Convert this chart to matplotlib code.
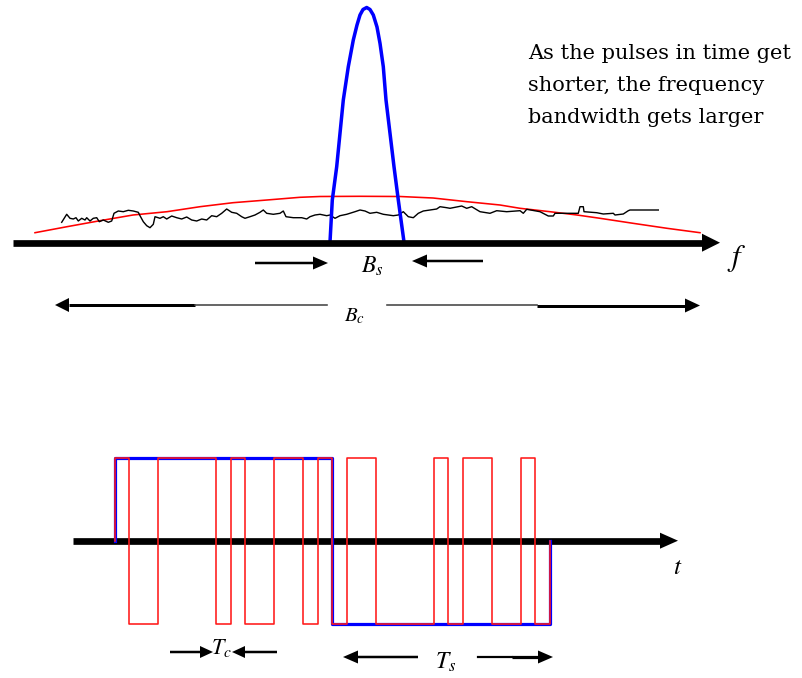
import numpy as np
import matplotlib
matplotlib.use("Agg")
import matplotlib.pyplot as plt

plt.rcParams['mathtext.fontset'] = 'stix'

# text of the note
note_lines = ["As the pulses in time get",
              "shorter, the frequency",
              "bandwidth gets larger"]

# spectrum of the short-pulse signal (blue lobe) (pixels)
lobe_x = [330, 332.3, 336.7, 340, 343.3, 348.3, 353.3, 357, 360, 363, 366.7, 370,
          373.3, 377, 380, 383.3, 386, 390, 394, 398.3, 404]
lobe_y = [242, 200, 166.7, 133.3, 100, 66.7, 40, 25, 15, 9.5, 7.5, 9.5,
          15, 27, 43.3, 66.7, 100, 133.3, 166.7, 200, 242]

# spread spectrum (red) (pixels)
spread_x = [35, 67, 100, 133, 167, 200, 233, 267, 300, 320, 360, 400, 433, 467,
            500, 520, 550, 577, 600, 633, 667, 700]
spread_y = [232.7, 226.7, 220.7, 215, 211.7, 206.7, 202.7, 200, 197.3, 196.5, 196.3,
            196.5, 198, 201.7, 205, 208.3, 211.7, 215, 218.3, 223.3, 228.3, 232.7]

# noise floor (black) (pixels)
noise_x = [61.7, 66.7, 70, 73.3, 76, 78.3, 81.7, 85, 86.7, 90, 93.3, 96.7, 99.3,
           103.3, 108.3, 111.7, 114, 118.3, 123.3, 128.3, 133.3, 138.3, 140, 143.3,
           146.7, 150, 153.3, 155, 160, 163.3, 166.7, 171.7, 176.7, 181.7, 186.7,
           191.7, 196.7, 201.7, 206.7, 211.7, 216.7, 221.7, 226.7, 231.7, 236.7,
           241.7, 245, 250, 255, 260, 263.3, 266.7, 273.3, 280, 283.3, 286, 293.3,
           301.7, 306.7, 310, 315, 320, 326.7, 330, 335, 340, 346.7, 355, 360, 365,
           370, 376.7, 383.3, 393.3, 398.3, 403.3, 408.3, 413.3, 418.3, 423.3, 430,
           436.7, 440, 446.7, 450, 461.7, 466.7, 471.7, 480, 490, 496.7, 506.7, 520,
           523.3, 526.7, 540, 548.3, 553.3, 555, 560, 578.3, 580, 583.3, 584, 596.7,
           603.3, 613.3, 615, 623.3, 628.3, 630, 658.3]
noise_y = [222.3, 214.3, 218.3, 219, 217.7, 221, 218.3, 220, 217.7, 221, 218.3, 217.7,
           221.7, 220, 222.3, 221, 213.3, 211, 211.7, 210.3, 211, 212.3, 215.7, 221.7,
           225.7, 227.7, 224.3, 216.7, 218.3, 216.7, 219, 216, 217.7, 219, 217, 220,
           221, 219, 220, 215.7, 216.7, 213.3, 209, 212.3, 213.3, 216.7, 218.3, 216.7,
           215, 212.3, 210, 213.3, 214.3, 213.3, 211, 216.7, 217.7, 217.7, 219, 216.7,
           215, 214.3, 215.7, 215, 218.3, 215.7, 214.3, 211.7, 210, 211, 213.3, 212.3,
           214.3, 215.7, 215, 211.7, 216.7, 217.7, 213.3, 211, 210, 209, 206.7, 207.7,
           208.3, 206, 208.3, 206.7, 211.7, 213.3, 210.7, 211.7, 210.7, 213.3, 209.3,
           211.7, 216, 216, 213.3, 213.3, 213.3, 206.7, 206.7, 211.7, 212.7, 214, 213.3,
           215, 214, 210.7, 210, 210]

# spreading code (one data bit = 15 chips) and the two data bits
pn_code = [1, -1, -1, 1, 1, 1, 1, -1, 1, -1, -1, 1, 1, -1, 1]
data_bits = [1, -1]

W, H = 803, 678
fig = plt.figure(figsize=(W / 100, H / 100), dpi=100)

# overlay in pixel units for the spectrum, axes and labels
ax = fig.add_axes([0, 0, 1, 1])
ax.set_xlim(0, W)
ax.set_ylim(H, 0)
ax.axis('off')

def px(v):
    # pixel width -> points
    return v * 0.72

def arrow(a, x0, x1, y, lw, head_len, head_h, color='black'):
    d = 1 if x1 > x0 else -1
    base = x1 - d * head_len
    a.plot([x0, base], [y, y], color=color, lw=px(lw), solid_capstyle='butt')
    a.fill([base, x1, base], [y - head_h / 2, y, y + head_h / 2], color=color, lw=0)

# top: spectra
ax.plot(spread_x, spread_y, color='red', lw=px(1.6))
ax.plot(noise_x, noise_y, color='black', lw=px(1.4))
ax.plot(lobe_x, lobe_y, color='#0000ff', lw=px(3.5), solid_joinstyle='round')
arrow(ax, 13, 720, 242.7, 6.7, 18, 18)
ax.text(737, 258, r'$f$', fontsize=22, ha='center', va='center')

# Bs arrows
arrow(ax, 255, 328, 263, 2.5, 15, 13)
arrow(ax, 483, 412, 261, 2.5, 15, 13)
ax.text(361, 273, r'$B_s$', fontsize=17, va='baseline')

# Bc arrows (thick outer part, thin inner part)
arrow(ax, 195, 55, 305, 3, 14, 14)
ax.plot([195, 327], [305, 305], color='#444444', lw=px(1.6))
ax.plot([387, 537], [305, 305], color='#444444', lw=px(1.6))
arrow(ax, 537, 700, 305.5, 3, 15, 14)
ax.text(344, 321.5, r'$B_c$', fontsize=15, va='baseline')

for i, line in enumerate(note_lines):
    ax.text(528, 59 + 32 * i, line, fontfamily='DejaVu Serif', fontsize=15,
            va='baseline')

# bottom: time waveforms, in chip units
T0, TC, Y0, AMP = 115, 14.5, 540.5, 83
axw = fig.add_axes([0, 0, 1, 1])
axw.set_xlim((0 - T0) / TC, (W - T0) / TC)
axw.set_ylim((Y0 - H) / AMP, Y0 / AMP)
axw.axis('off')
axw.patch.set_alpha(0)

n_pn = len(pn_code)
chips = np.concatenate([np.array(pn_code) * b for b in data_bits])
n = len(chips)

bit_x = [0]
bit_y = [0]
for k, b in enumerate(data_bits):
    bit_x += [k * n_pn, (k + 1) * n_pn]
    bit_y += [b, b]
bit_x += [n]
bit_y += [0]

chip_x = [0]
chip_y = [0]
for k, c in enumerate(chips):
    chip_x += [k, k + 1]
    chip_y += [c, c]
chip_x += [n]
chip_y += [0]

arrow(ax, 73, 678, 540.7, 6.7, 18, 16)
axw.plot(bit_x, bit_y, color='#0000ff', lw=px(3.2))
axw.plot(chip_x, chip_y, color='#ff1a1a', lw=px(1.6))
ax.text(678, 567, r'$t$', fontsize=18, ha='center', va='center')

# Tc arrows
arrow(ax, 170, 213, 652, 2.5, 13, 12)
arrow(ax, 277, 232, 652, 2.5, 13, 12)
ax.text(211, 654, r'$T_c$', fontsize=16, va='baseline')

# Ts arrows
arrow(ax, 418, 343, 657, 2.5, 15, 13)
ax.plot([478, 512], [657, 657], color='black', lw=px(2.2))
arrow(ax, 512, 553, 657, 3.2, 15, 13)
ax.text(435, 669, r'$T_s$', fontsize=17, va='baseline')

fig.savefig('out.png', dpi=100)
